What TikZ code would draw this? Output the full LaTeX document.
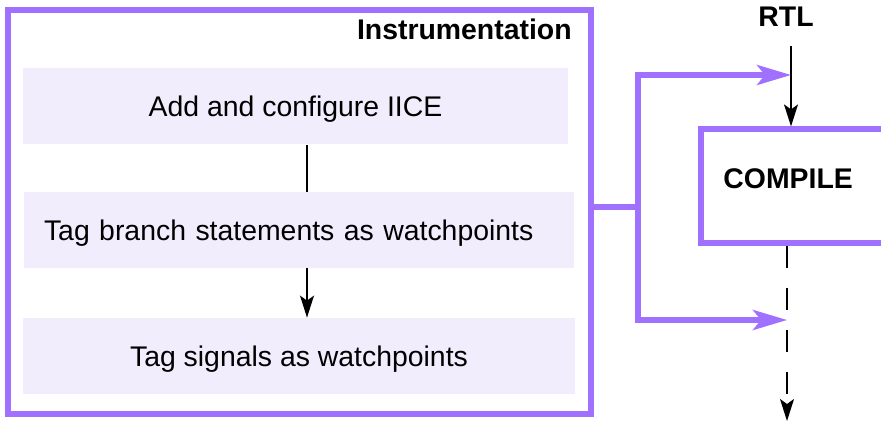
\documentclass[tikz,border=0pt]{standalone}
\usepackage{fontspec}
\setmainfont{Liberation Sans}
\usetikzlibrary{arrows.meta}

\definecolor{instrviolet}{HTML}{A070FF}
\definecolor{stepfill}{HTML}{F2EDFD}

\tikzset{
  stepbox/.style={fill=stepfill, inner sep=0pt, minimum height=38pt,
    text height=10.2pt, text depth=0pt,
    font=\fontsize{14.2pt}{17pt}\selectfont},
  groupbox/.style={draw=instrviolet, line width=2.6pt, inner sep=0pt},
  boldlabel/.style={font=\fontsize{14.2pt}{17pt}\selectfont\bfseries, inner sep=0pt},
  flow/.style={line width=0.7pt, -{Stealth[length=11pt, width=7pt, inset=2.5pt]}},
  feed/.style={draw=instrviolet, line width=2.6pt,
    -{Stealth[length=17pt, width=10pt, inset=4pt]}}
}

\begin{document}
\begin{tikzpicture}[x=0.5pt, y=-0.5pt]

    % page
    \useasboundingbox (0,0) rectangle (881,422);
    \clip (0,0) rectangle (881,422);

    % constants
    \def\midx{307}

    % Instrumentation group
    \node[groupbox, minimum width=291.5pt, minimum height=202pt] (instr) at (299.5,212) {};
    \node[boldlabel, anchor=base east] (title) at (572,40) {Instrumentation};

    \node[stepbox, minimum width=272.5pt] (add) at (295.5,106.5) {Add and configure IICE};
    \node[stepbox, text width=255pt, inner xsep=10pt, align=left] (branch) at (299,230)
        {Tag branch statements as watchpoints};
    \node[stepbox, minimum width=276pt] (signals) at (299,356) {Tag signals as watchpoints};

    \coordinate (mid) at (\midx,0);
    \draw[line width=0.7pt] (add.south -| mid) -- (branch.north -| mid);
    \draw[flow] (branch.south -| mid) -- (signals.north -| mid);

    % compile stage
    \node[boldlabel, anchor=base] (rtl) at (786,27) {RTL};
    \node[groupbox, minimum width=130pt, minimum height=57pt] (compile) at (831,186) {};
    \node[boldlabel, anchor=base west] (compilelabel) at (723,188) {COMPILE};

    \coordinate (rtlstart) at (791,46);
    \coordinate (rtlin) at (791,75);
    \coordinate (compout) at (787,320);
    \coordinate (out) at (787,421);

    \draw[flow] (rtlstart) -- (rtlstart |- compile.north);
    \draw[flow, dash pattern=on 11pt off 10pt] (compile.south -| out) -- (out);

    % instrumentation feeds
    \coordinate (split) at (638,207);
    \draw[draw=instrviolet, line width=2.6pt] (instr.east |- split) -- (split);
    \draw[feed] (split) |- (rtlin);
    \draw[feed] (split) |- (compout);

\end{tikzpicture}
\end{document}
